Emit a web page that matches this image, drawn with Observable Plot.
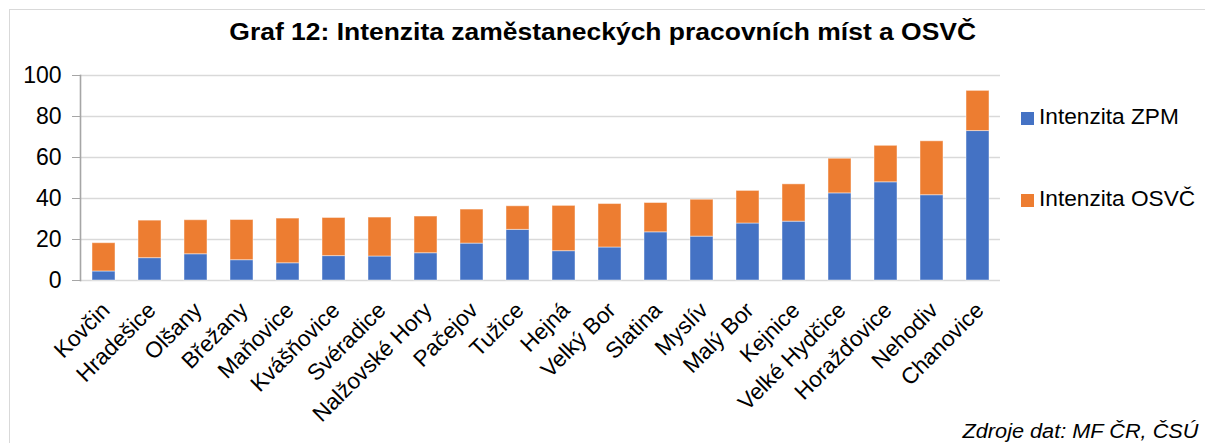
<!DOCTYPE html>
<html>
<head>
<meta charset="utf-8">
<script src="https://cdn.jsdelivr.net/npm/d3@7"></script>
<script src="https://cdn.jsdelivr.net/npm/@observablehq/plot@0.6"></script>
<style>
  html, body { margin: 0; padding: 0; background: #fff; overflow: hidden; }
  #root { position: relative; width: 1205px; height: 443px; overflow: hidden; font-family: Arial, "Liberation Sans", sans-serif; }
  #frame { position: absolute; left: 9px; top: 9px; width: 1400px; height: 600px; border: 1.5px solid #d9d9d9; box-sizing: border-box; }
  #chart { position: absolute; left: 0; top: 0; }
  #title { position: absolute; left: 0; width: 1205px; top: 19px; text-align: center; font-weight: bold; font-size: 23px; line-height: 1.15; color: #000; white-space: nowrap; transform: scaleX(1.15); transform-origin: 601px 0; }
  .leg { position: absolute; left: 1021px; font-size: 22px; color: #000; white-space: nowrap; line-height: 1; }
  .leg span.sw { position: absolute; left: 0; width: 13px; height: 13px; }
  .leg span.tx { position: absolute; left: 18px; top: -6px; transform: scaleX(1.03); transform-origin: 0 0; }
  #foot { position: absolute; right: 7px; top: 420px; font-style: italic; font-size: 20px; line-height: 1.15; color: #000; white-space: nowrap; transform: scaleX(1.085); transform-origin: 100% 0; }
</style>
</head>
<body>
<div id="root">
  <div id="frame"></div>
  <div id="chart"></div>
  <div id="title"></div>
  <div id="legend"></div>
  <div id="foot"></div>
</div>
<script>
const titleText = "Graf 12: Intenzita zaměstaneckých pracovních míst a OSVČ";
const sourceText = "Zdroje dat: MF ČR, ČSÚ";
const categories = ["Kovčin","Hradešice","Olšany","Břežany","Maňovice","Kvášňovice","Svéradice","Nalžovské Hory","Pačejov","Tužice","Hejná","Velký Bor","Slatina","Myslív","Malý Bor","Kejnice","Velké Hydčice","Horažďovice","Nehodiv","Chanovice"];
const seriesNames = ["Intenzita ZPM", "Intenzita OSVČ"];
const seriesColors = ["#4472C4", "#ED7D31"];
const zpm  = [4.4, 10.9, 12.8, 9.9, 8.4, 11.9, 11.7, 13.3, 18.0, 24.7, 14.3, 16.1, 23.5, 21.4, 27.8, 28.7, 42.5, 47.9, 41.6, 72.9];
const osvc = [13.8, 18.3, 16.6, 19.6, 21.8, 18.6, 19.0, 17.9, 16.6, 11.5, 22.1, 21.2, 14.3, 18.0, 15.9, 18.2, 16.9, 17.8, 26.3, 19.6];
const yTicks = [0, 20, 40, 60, 80, 100];

const data = [];
categories.forEach((c, i) => {
  data.push({name: c, series: seriesNames[0], value: zpm[i]});
  data.push({name: c, series: seriesNames[1], value: osvc[i]});
});

document.getElementById("title").textContent = titleText;
document.getElementById("foot").textContent = sourceText;

const leg = document.getElementById("legend");
const legTops = [112, 194];
seriesNames.forEach((s, i) => {
  const d = document.createElement("div");
  d.className = "leg";
  d.style.top = legTops[i] + "px";
  d.innerHTML = `<span class="sw" style="background:${seriesColors[i]}"></span><span class="tx"></span>`;
  d.querySelector(".tx").textContent = s;
  leg.appendChild(d);
});

const chart = Plot.plot({
  width: 1205,
  height: 443,
  marginLeft: 80,
  marginRight: 205,
  marginTop: 75,
  marginBottom: 163,
  style: {fontFamily: "Arial, 'Liberation Sans', sans-serif", background: "transparent", overflow: "visible"},
  x: {domain: categories, paddingInner: 0.5, paddingOuter: 0.25, label: null},
  y: {domain: [0, 100], label: null},
  color: {domain: seriesNames, range: seriesColors},
  marks: [
    Plot.gridY(yTicks, {stroke: "#d9d9d9", strokeOpacity: 1, strokeWidth: 1.6}),
    Plot.barY(data, {x: "name", y: "value", fill: "series", stroke: "#ffffff", strokeOpacity: 0.45, strokeWidth: 1}),
    Plot.axisY({ticks: yTicks, tickSize: 8, tickPadding: 11, stroke: "#a6a6a6", fontSize: 23, fill: "#000", label: null}),
    Plot.axisX({tickSize: 0, tickRotate: -45, tickPadding: 26, dx: 2, fontSize: 22.5, fill: "#000", label: null}),
    Plot.frame({anchor: "left", stroke: "#a6a6a6", strokeWidth: 1.6})
  ]
});
document.getElementById("chart").appendChild(chart);
</script>
</body>
</html>
